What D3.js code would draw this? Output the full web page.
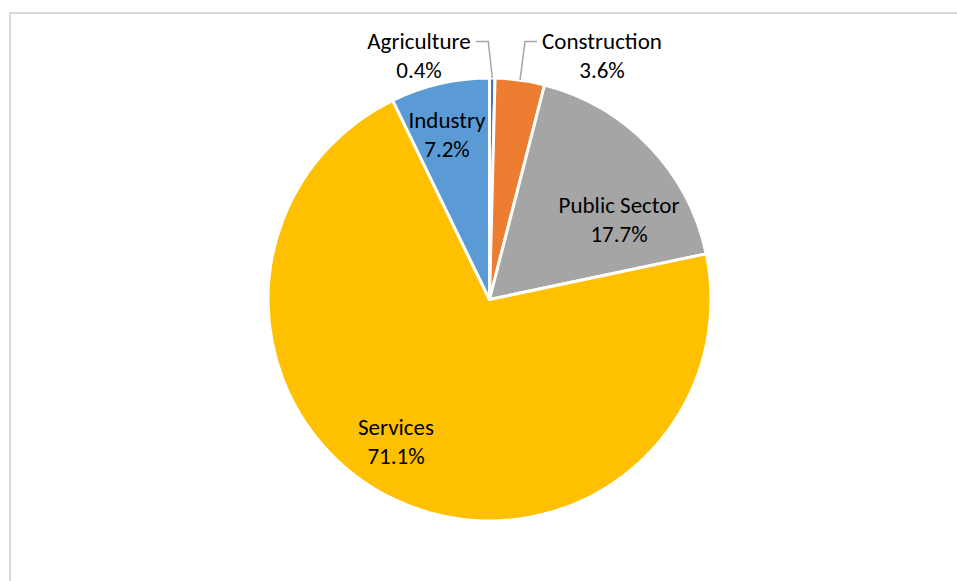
<!DOCTYPE html>
<html>
<head>
<meta charset="utf-8">
<script src="https://cdn.jsdelivr.net/npm/d3@7"></script>
<style>
  html, body { margin: 0; padding: 0; background: #fff; }
  svg { display: block; }
  text { font-family: Carlito, Lato, "Open Sans", sans-serif; fill: #000; }
</style>
</head>
<body>
<svg id="chart" width="957" height="581"></svg>
<script>
// Share of employment by sector
const sectors = ["Agriculture", "Construction", "Public Sector", "Services", "Industry"];
const shares = [0.4, 3.6, 17.7, 71.1, 7.2];
const colors = ["#4472C4", "#ED7D31", "#A5A5A5", "#FFC000", "#5B9BD5"];

// label anchors (centre of the two-line label) and which labels use leader lines
const labelPos = {
  "Agriculture":   { x: 419, y: 56, leader: true, side: "left" },
  "Construction":  { x: 602, y: 56, leader: true, side: "right" },
  "Public Sector": { x: 619, y: 220 },
  "Services":      { x: 396, y: 442 },
  "Industry":      { x: 447, y: 135 }
};

const svg = d3.select("#chart");
const W = 957, H = 581;

// chart frame
svg.append("rect")
  .attr("x", 10).attr("y", 13)
  .attr("width", W + 10).attr("height", H + 10)
  .attr("fill", "none")
  .attr("stroke", "#D9D9D9")
  .attr("stroke-width", 2);

const cx = 489.5, cy = 299.5, R = 221.5;
const g = svg.append("g").attr("transform", `translate(${cx},${cy})`);

const data = sectors.map((s, i) => ({ name: s, value: shares[i], color: colors[i] }));
const pie = d3.pie().sort(null).value(d => d.value).startAngle(0).endAngle(2 * Math.PI);
const arc = d3.arc().innerRadius(0).outerRadius(R);
const arcs = pie(data);

g.selectAll("path.slice")
  .data(arcs)
  .join("path")
  .attr("class", "slice")
  .attr("d", arc)
  .attr("fill", d => d.data.color)
  .attr("stroke", "#fff")
  .attr("stroke-width", 3)
  .attr("stroke-linejoin", "round");

const fmt = v => v.toFixed(1) + "%";
const fontSize = 23;
const lineGap = 29;

arcs.forEach(a => {
  const p = labelPos[a.data.name];
  const t = svg.append("text")
    .attr("text-anchor", "middle")
    .style("font-size", fontSize + "px");
  t.append("tspan").attr("x", p.x).attr("y", p.y - lineGap / 2 + 7).text(a.data.name);
  t.append("tspan").attr("x", p.x).attr("y", p.y + lineGap / 2 + 7).text(fmt(a.data.value));

  if (p.leader) {
    // leader line from the label edge to the slice's outer midpoint
    const mid = (a.startAngle + a.endAngle) / 2;
    const ex = cx + R * Math.sin(mid);
    const ey = cy - R * Math.cos(mid);
    const bbox = t.node().getBBox();
    const lineY = p.y - lineGap / 2;
    const startX = p.side === "left" ? bbox.x + bbox.width + 5 : bbox.x - 5;
    const bendX = p.side === "left" ? ex - 4 : ex + 5;
    svg.append("polyline")
      .attr("points", `${startX},${lineY} ${bendX},${lineY} ${ex},${ey}`)
      .attr("fill", "none")
      .attr("stroke", "#A6A6A6")
      .attr("stroke-width", 1.5);
  }
});
</script>
</body>
</html>
